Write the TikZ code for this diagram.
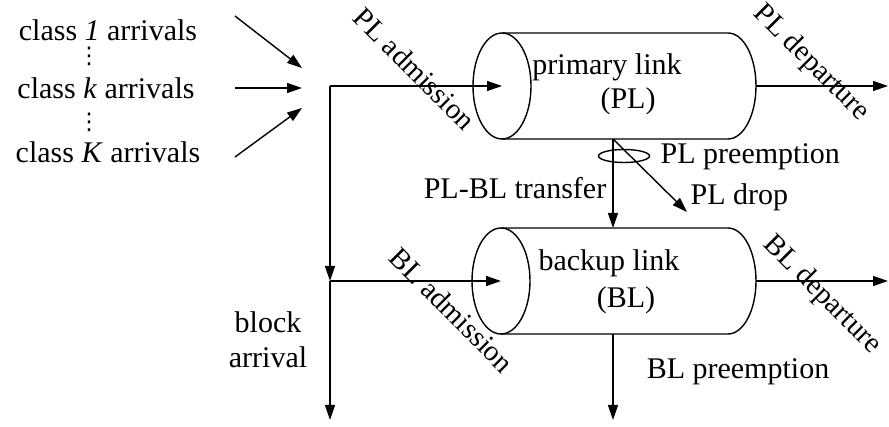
\documentclass[tikz,border=0pt]{standalone}
\usepackage{fontspec}
\setmainfont{Liberation Serif}
\newfontfamily\symfont{DejaVu Sans}
\usetikzlibrary{arrows.meta,shapes.geometric}
\begin{document}
\begin{tikzpicture}[x=1pt,y=-1pt,
  line width=1.4pt,
  arr/.style={-{Triangle[length=15pt,width=10pt]}},
  lbl/.style={font=\fontsize{30}{35}\selectfont, inner sep=0pt},
  slant/.style={font=\fontsize{29}{34}\selectfont, inner sep=0pt, rotate=-45},
  dots/.style={font=\symfont\fontsize{23}{25}\selectfont, inner sep=0pt},
  endcap/.style={draw, ellipse, minimum width=58pt, minimum height=106pt, inner sep=0pt},
  ring/.style={draw, ellipse, minimum width=51pt, minimum height=13pt, inner sep=0pt}]
\fill[white] (0,0) rectangle (889,427);
\useasboundingbox (0,0) rectangle (889,427);

% arrival classes
\node[lbl] (c1) at (108,30) {class \textit{1} arrivals};
\node[dots] (d1) at (89,56) {⋮};
\node[lbl] (ck) at (106,88) {class \textit{k} arrivals};
\node[dots] (d2) at (89,122) {⋮};
\node[lbl] (cK) at (108,152) {class \textit{K} arrivals};

\coordinate (a1s) at (235,16);  \coordinate (a1e) at (302,68);
\coordinate (aks) at (235,88);  \coordinate (ake) at (302,88);
\coordinate (aKs) at (235,157); \coordinate (aKe) at (302,108);
\draw[arr] (a1s) -- (a1e);
\draw[arr] (aks) -- (ake);
\draw[arr] (aKs) -- (aKe);

% primary link
\node[endcap] (plL) at (502,86) {};
\draw (502,33) -- (728,33) arc[start angle=-90, end angle=90, x radius=28, y radius=53] -- (502,139);
\node[lbl] (plt1) at (607,67) {primary link};
\node[lbl] (plt2) at (628,101) {(PL)};

% backup link
\node[endcap] (blL) at (501,281) {};
\draw (501,228) -- (728,228) arc[start angle=-90, end angle=90, x radius=28, y radius=53] -- (501,334);
\node[lbl] (blt1) at (609,263) {backup link};
\node[lbl] (blt2) at (626,300) {(BL)};

% admission / blocking paths
\coordinate (j1) at (330,86);
\coordinate (j2) at (330,281);
\coordinate (blk) at (330,420);
\draw[arr] (j1) -- (plL.center);
\draw[arr] (j1) -- (j2);
\draw[arr] (j2) -- (blk);
\draw[arr] (j2) -- (blL.center);
\node[slant] (pladm) at (415,69) {PL admission};
\node[slant] (bladm) at (452,310) {BL admission};
\node[lbl, align=center] (blkarr) at (268,340) {block\\arrival};

% departures
\coordinate (plr) at (756,86);  \coordinate (plout) at (888,86);
\coordinate (blr) at (756,281); \coordinate (blout) at (888,281);
\draw[arr] (plr) -- (plout);
\draw[arr] (blr) -- (blout);
\node[slant] (pldep) at (811,63) {PL departure};
\node[slant] (bldep) at (822,295) {BL departure};

% preemption from the primary link
\coordinate (plb) at (613,139);
\coordinate (blt) at (613,228);
\coordinate (drop) at (687,212);
\draw[arr] (plb) -- (blt);
\draw[arr] (plb) -- (drop);
\node[ring] (pre) at (624,156) {};
\node[lbl, anchor=west] (plpre) at (660,157) {PL preemption};
\node[lbl, anchor=west] (pldrop) at (690,197) {PL drop};
\node[lbl] (xfer) at (515,188) {PL-BL transfer};

% preemption from the backup link
\coordinate (blb) at (613,334);
\coordinate (blpre) at (613,420);
\draw[arr] (blb) -- (blpre);
\node[lbl] (blprel) at (738,372) {BL preemption};
\end{tikzpicture}
\end{document}
